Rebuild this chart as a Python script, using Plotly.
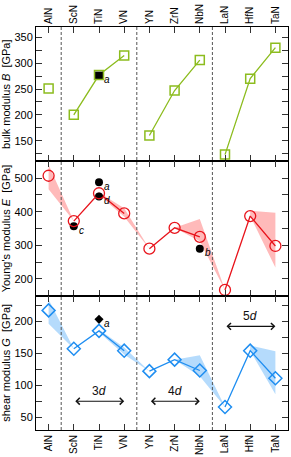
import plotly.graph_objects as go
from plotly.subplots import make_subplots

categories = ["AlN", "ScN", "TiN", "VN", "YN", "ZrN", "NbN", "LaN", "HfN", "TaN"]
groups = [[0], [1, 2, 3], [4, 5, 6], [7, 8, 9]]
band_segments = [[0, 1], [2, 3, 4], [5, 6, 7], [8, 9]]
group_dividers = [0.5, 3.5, 6.5]

bulk_B = [251, 200, 277, 315, 160, 247, 306, 123, 270, 330]
young_E = [507, 372, 455, 395, 290, 352, 325, 167, 387, 298]
young_E_upper = [540, 372, 457, 410, 290, 352, 378, 167, 403, 397]
young_E_lower = [467, 372, 450, 385, 290, 352, 312, 167, 387, 234]
shear_G = [217, 157, 185, 154, 122, 140, 123, 66, 154, 111]
shear_G_upper = [234, 157, 187, 159, 122, 140, 147, 66, 162, 153]
shear_G_lower = [196, 157, 183, 148, 122, 140, 114, 66, 154, 86]

# reference (black) points: (category index, value, label)
ref_B = [(2, 276, "a")]
ref_E = [(2, 488, "a"), (2, 445, "d"), (1, 357, "c"), (6, 290, "b")]
ref_G = [(2, 203, "a")]

arrows = [("3d", 1, 3, 75), ("4d", 4, 6, 75), ("5d", 7, 9, 192)]

GREEN = "#8cbc1e"
RED = "#e8141c"
RED_FILL = "rgba(255,140,140,0.6)"
BLUE = "#1f8ef1"
BLUE_FILL = "rgba(120,190,250,0.55)"
FONT = "Liberation Sans"

fig = make_subplots(rows=3, cols=1, vertical_spacing=0)


def grouped(vals):
    xs, ys = [], []
    for g in groups:
        for i in g:
            xs.append(i)
            ys.append(vals[i])
        xs.append(None)
        ys.append(None)
    return xs, ys


def band(upper, lower):
    xs, ys = [], []
    for seg in band_segments:
        for i in seg:
            xs.append(i)
            ys.append(upper[i])
        for i in reversed(seg):
            xs.append(i)
            ys.append(lower[i])
        xs.append(seg[0])
        ys.append(upper[seg[0]])
        xs.append(None)
        ys.append(None)
    return xs, ys


# bands
bx, by = band(young_E_upper, young_E_lower)
fig.add_trace(go.Scatter(x=bx, y=by, fill="toself", fillcolor=RED_FILL,
                         mode="none", hoverinfo="skip"), row=2, col=1)
bx, by = band(shear_G_upper, shear_G_lower)
fig.add_trace(go.Scatter(x=bx, y=by, fill="toself", fillcolor=BLUE_FILL,
                         mode="none", hoverinfo="skip"), row=3, col=1)

# lines
for vals, color, row in [(bulk_B, GREEN, 1), (young_E, RED, 2), (shear_G, BLUE, 3)]:
    gx, gy = grouped(vals)
    fig.add_trace(go.Scatter(x=gx, y=gy, mode="lines",
                             line=dict(color=color, width=1.3)), row=row, col=1)

# reference points
for refs, sym, size, row in [(ref_B, "square", 8, 1), (ref_E, "circle", 8, 2), (ref_G, "diamond", 7, 3)]:
    fig.add_trace(go.Scatter(x=[r[0] for r in refs], y=[r[1] for r in refs], mode="markers",
                             marker=dict(symbol=sym, size=size, color="black"),
                             cliponaxis=False), row=row, col=1)
    for r in refs:
        fig.add_annotation(x=r[0], y=r[1], text="<i>%s</i>" % r[2], showarrow=False,
                           xanchor="left", yanchor="middle", xshift=3, yshift=-4,
                           font=dict(size=10, color="black", family=FONT), row=row, col=1)

# markers
idx = list(range(len(categories)))
fig.add_trace(go.Scatter(x=idx, y=bulk_B, mode="markers", cliponaxis=False,
                         marker=dict(symbol="square-open", size=9, color=GREEN, line=dict(width=1.5))),
              row=1, col=1)
fig.add_trace(go.Scatter(x=idx, y=young_E, mode="markers", cliponaxis=False,
                         marker=dict(symbol="circle-open", size=11, color=RED, line=dict(width=1.3))),
              row=2, col=1)
fig.add_trace(go.Scatter(x=idx, y=shear_G, mode="markers", cliponaxis=False,
                         marker=dict(symbol="diamond-open", size=10, color=BLUE, line=dict(width=1.5))),
              row=3, col=1)

# arrows
for label, i0, i1, yv in arrows:
    fig.add_annotation(x=i1, y=yv, ax=i0, ay=yv, xref="x3", yref="y3", axref="x3", ayref="y3",
                       showarrow=True, arrowside="end+start", arrowhead=4, arrowsize=1.2,
                       arrowwidth=1.1, arrowcolor="#111", text="")
    fig.add_annotation(x=(i0 + i1) / 2, y=yv, xref="x3", yref="y3", text="%s<i>%s</i>" % (label[0], label[1]),
                       showarrow=False, yanchor="bottom", yshift=1,
                       font=dict(size=12, color="#111", family=FONT))

for d in group_dividers:
    fig.add_shape(type="line", x0=d, x1=d, y0=0, y1=1, xref="x", yref="paper",
                  line=dict(color="#555", width=1, dash="3px,2px"))

axis_common = dict(showline=True, linecolor="black", linewidth=1, mirror="allticks",
                   ticks="inside", ticklen=6, tickcolor="#333", tickwidth=1,
                   showgrid=False, zeroline=False, automargin=False)

for row in (1, 2, 3):
    fig.update_xaxes(range=[-0.5, 9.5], tickvals=idx, ticktext=categories, tickangle=-90,
                     tickfont=dict(size=10, family=FONT, color="black"),
                     showticklabels=(row != 2), row=row, col=1, **axis_common)
fig.update_xaxes(side="top", row=1, col=1)

fig.update_yaxes(range=[110, 370], tickvals=[150, 200, 250, 300, 350],
                 minor=dict(dtick=25, tick0=0, ticks="inside", ticklen=6, tickcolor="#333"),
                 title=dict(text="bulk modulus <i>B</i>  [GPa]", standoff=3), row=1, col=1, **axis_common)
fig.update_yaxes(range=[150, 550], tickvals=[200, 300, 400, 500],
                 minor=dict(dtick=50, tick0=0, ticks="inside", ticklen=6, tickcolor="#333"),
                 title=dict(text="Young's modulus <i>E</i>  [GPa]", standoff=3), row=2, col=1, **axis_common)
fig.update_yaxes(range=[30, 240], tickvals=[50, 100, 150, 200],
                 minor=dict(dtick=25, tick0=0, ticks="inside", ticklen=6, tickcolor="#333"),
                 title=dict(text="shear modulus <i>G</i>  [GPa]", standoff=3), row=3, col=1, **axis_common)
fig.update_yaxes(tickfont=dict(size=11, family=FONT, color="black"),
                 title_font=dict(size=11, family=FONT, color="black"))

fig.update_layout(width=291, height=457, margin=dict(l=36, r=3, t=27, b=27),
                  plot_bgcolor="white", paper_bgcolor="white", showlegend=False,
                  font=dict(family=FONT, color="black"))

# remove the page's default body margin so the figure fills the window exactly
fig.write_html("out.html", config={"displayModeBar": False},
               post_script="document.body.style.margin='0px';")
